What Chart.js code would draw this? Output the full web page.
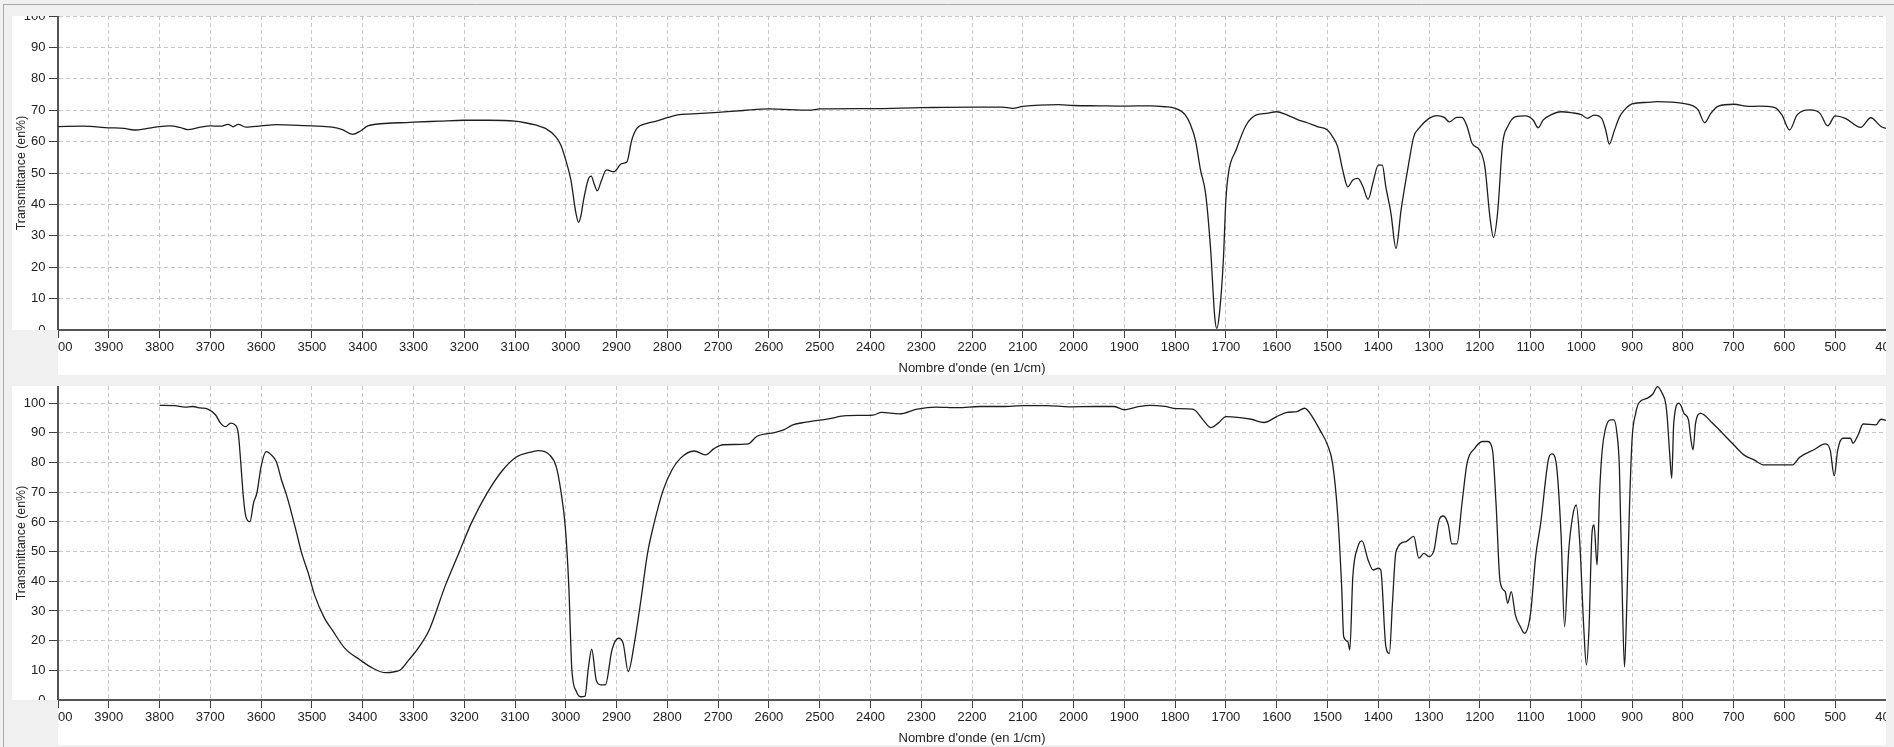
<!DOCTYPE html>
<html><head><meta charset="utf-8">
<script src="https://cdn.jsdelivr.net/npm/chart.js@4.4.1/dist/chart.umd.min.js"></script>
<style>
html,body{margin:0;padding:0;background:#f0f0f0;overflow:hidden}
#wrap{position:relative;width:1894px;height:747px}
canvas{position:absolute;left:0}
#c1{top:0}
#c2{top:376px}
</style></head><body>
<div id="wrap"><canvas id="c1" width="1894" height="376"></canvas><canvas id="c2" width="1894" height="371"></canvas></div>
<script>
// ---------- data ----------
const topWavenumbers = [4000,3950,3900,3870,3850,3820,3800,3780,3760,3745,3720,3700,3680,3665,3655,3645,3630,3600,3570,3550,3500,3460,3440,3420,3405,3390,3370,3330,3300,3250,3200,3150,3100,3080,3060,3040,3020,3010,3000,2990,2980,2975,2970,2965,2955,2950,2944,2938,2930,2920,2905,2890,2880,2870,2860,2840,2820,2800,2780,2750,2700,2650,2600,2520,2500,2400,2300,2200,2140,2120,2100,2030,2000,1950,1900,1850,1820,1800,1780,1770,1760,1750,1740,1730,1722,1718,1712,1705,1700,1695,1680,1660,1640,1620,1600,1580,1560,1540,1520,1500,1490,1480,1470,1460,1450,1440,1430,1420,1410,1400,1392,1385,1375,1365,1355,1340,1330,1320,1300,1285,1270,1260,1245,1235,1225,1215,1200,1190,1180,1173,1165,1155,1145,1130,1110,1095,1085,1075,1060,1040,1020,1000,988,975,960,952,945,935,925,915,900,870,850,800,780,770,757,745,730,700,670,650,620,605,590,575,550,530,515,500,480,450,430,410,400];
const topTransmittance = [64.8,64.9,64.4,64.2,63.7,64.3,64.8,65.0,64.5,63.8,64.6,65.0,64.9,65.5,64.7,65.5,64.6,65.0,65.4,65.3,65.0,64.6,63.8,62.3,63.3,65.0,65.6,66.0,66.2,66.5,66.8,66.8,66.5,66.0,65.3,64.2,61.6,59.0,54.1,47.8,37.2,34.3,36.5,41.4,48.3,49.0,46.5,44.3,47.5,51.0,50.4,53.0,53.4,60.5,64.2,65.8,66.6,67.6,68.5,68.8,69.3,69.9,70.4,70.0,70.4,70.5,70.8,71.0,71.0,70.6,71.2,71.8,71.5,71.4,71.3,71.4,71.1,70.6,68.5,65.5,60.5,51.0,43.5,25.5,4.2,0.5,6.4,22.3,41.4,49.9,57.3,65.3,68.5,69.0,69.5,68.5,67.1,66.0,64.8,63.7,61.6,58.4,51.0,45.6,47.8,48.3,45.6,41.6,47.2,52.5,52.5,45.6,37.2,26.0,38.2,53.0,61.6,64.2,67.4,68.3,67.7,66.3,67.7,67.7,64.8,59.4,57.3,52.0,36.0,29.5,37.2,59.4,64.8,67.9,68.2,66.9,64.4,66.9,68.5,69.5,69.2,68.6,67.4,68.4,67.4,63.7,59.2,63.5,67.8,70.1,72.0,72.5,72.7,72.2,71.4,70.1,66.0,69.0,71.3,71.9,71.2,71.3,70.9,68.5,63.7,68.5,70.1,69.0,65.0,68.2,67.4,64.5,67.6,64.8,64.2];

const bottomWavenumbers = [3800,3770,3750,3735,3720,3705,3690,3680,3670,3660,3652,3645,3640,3635,3630,3622,3615,3608,3600,3590,3580,3570,3560,3550,3540,3530,3520,3507,3495,3475,3460,3435,3405,3380,3355,3335,3326,3309,3291,3269,3238,3212,3186,3155,3124,3098,3072,3054,3032,3019,3010,3001,2994,2988,2979,2971,2962,2956,2949,2940,2931,2922,2909,2896,2887,2877,2865,2852,2839,2826,2808,2791,2774,2747,2725,2708,2690,2641,2624,2589,2571,2553,2527,2483,2448,2395,2378,2343,2308,2272,2228,2185,2141,2097,2053,2009,1956,1920,1900,1870,1850,1820,1800,1765,1745,1730,1715,1700,1650,1625,1600,1580,1560,1545,1530,1515,1500,1490,1480,1472,1468,1460,1456,1450,1440,1432,1420,1410,1400,1395,1385,1378,1372,1365,1345,1330,1320,1310,1300,1290,1280,1272,1262,1255,1245,1235,1225,1210,1195,1185,1175,1168,1160,1150,1145,1138,1130,1120,1112,1100,1090,1080,1065,1058,1050,1040,1033,1025,1017,1010,1003,995,990,985,979,975,969,964,959,953,943,936,930,925,920,915,910,905,900,893,887,870,859,850,841,834,831,826,822,818,808,803,798,789,785,780,775,765,742,722,700,680,660,640,600,585,570,540,520,510,502,495,485,470,465,455,445,420,410,400];
const bottomTransmittance = [99.3,99.2,98.7,98.9,98.4,98.0,96.1,93.3,92.1,93.3,92.8,89.9,79.8,68.5,61.8,60.1,66.3,70.0,78.7,83.7,82.6,80.3,74.2,69.1,62.9,56.2,49.4,42.7,35.5,27.5,23.6,17.4,13.5,10.7,9.2,9.6,10.1,13.5,17.4,23.6,38.2,48.9,59.6,69.7,77.5,81.8,83.4,84.0,82.6,78.7,70.8,58.4,38.2,10.1,2.8,1.1,1.3,10.1,17.1,6.7,5.1,5.1,16.9,20.8,19.1,9.6,19.1,33.7,49.4,59.6,70.8,77.5,81.5,83.9,82.6,84.7,86.0,86.3,88.8,90.1,91.0,92.7,93.6,94.7,95.8,96.0,96.9,96.4,98.0,98.7,98.5,98.9,98.9,99.2,99.2,98.8,98.9,98.9,97.8,98.9,99.3,98.9,98.2,98.0,94.4,91.8,93.3,95.5,94.6,93.5,95.5,96.9,97.2,98.3,95.5,91.0,86.0,79.8,62.9,38.2,21.3,19.7,16.9,41.6,51.7,53.6,47.2,43.8,44.4,43.8,18.0,15.7,32.6,50.0,53.4,55.1,47.8,49.4,48.3,50.6,60.7,62.0,59.0,52.6,52.6,66.3,79.8,84.8,87.1,87.1,84.3,66.3,39.9,36.5,32.6,36.5,28.7,24.7,22.5,29.2,48.3,59.6,80.9,82.9,80.3,56.0,24.7,50.0,62.0,65.7,52.8,23.6,11.8,23.6,56.2,59.0,45.5,70.0,84.0,91.0,94.4,94.4,90.0,78.0,40.0,11.2,35.0,66.0,88.0,96.6,100.0,101.7,103.1,105.6,103.4,100.0,95.5,83.0,74.7,93.3,100.0,98.9,96.6,94.4,88.8,84.3,93.3,96.6,93.3,89.9,86.0,82.6,80.9,79.2,79.2,79.2,81.8,84.5,86.3,84.3,75.5,84.3,88.2,88.2,86.5,89.3,93.0,92.7,94.6,94.2];

const xMin = 400, xMax = 4000, xTickStep = 100;
const yTickStep = 10;
const topYMax = 100, bottomYMax = 105.8;
const xTitle = "Nombre d'onde (en 1/cm)";
const yTitle = "Transmittance (en%)";

// ---------- drawing ----------
const W = 1894;
const FONT = "'Liberation Sans', Arial, sans-serif";
const GRAY = '#f0f0f0';

const framePlugin = {
  id: 'frame',
  beforeDraw(chart, args, o) {
    const ctx = chart.ctx, H = chart.height, a = chart.chartArea;
    ctx.save();
    ctx.fillStyle = GRAY; ctx.fillRect(0, 0, W, H);
    ctx.fillStyle = '#ffffff';
    ctx.fillRect(12, a.top, a.right - 12, a.bottom - a.top);
    ctx.fillRect(a.left, a.bottom, a.right - a.left, o.axisBottom - a.bottom);
    ctx.restore();
  },
  afterDraw(chart, args, o) {
    const ctx = chart.ctx, H = chart.height, a = chart.chartArea;
    ctx.save();
    ctx.fillStyle = GRAY;
    ctx.fillRect(0, 0, W, a.top);
    ctx.fillRect(0, 0, 12, H);
    ctx.fillRect(a.right, 0, W - a.right, H);
    ctx.fillRect(0, a.bottom, a.left, H - a.bottom);
    ctx.fillRect(0, o.axisBottom, W, H - o.axisBottom);
    ctx.strokeStyle = '#a8a8a8'; ctx.lineWidth = 1;
    ctx.beginPath();
    ctx.moveTo(3.5, o.frameTop); ctx.lineTo(3.5, H);
    if (o.frameTop > 0) { ctx.moveTo(3, o.frameTop + 0.5); ctx.lineTo(W, o.frameTop + 0.5); }
    ctx.stroke();
    ctx.restore();
  }
};

function makeChart(id, xs, ys, yMax, g) {
  const pts = xs.map((x, i) => ({x: x, y: ys[i]}));
  return new Chart(document.getElementById(id), {
    type: 'line',
    data: { datasets: [{ data: pts, borderColor: '#1e1e1e', borderWidth: 1.3, pointRadius: 0,
      cubicInterpolationMode: 'monotone', fill: false }] },
    plugins: [framePlugin],
    options: {
      responsive: false, animation: false, events: [], devicePixelRatio: 1,
      layout: { padding: { left: 10, right: 8, top: g.plotTop, bottom: 0 } },
      plugins: { legend: { display: false }, tooltip: { enabled: false },
        frame: { axisBottom: g.axisBottom, frameTop: g.frameTop } },
      scales: {
        x: {
          type: 'linear', reverse: true, min: xMin, max: xMax,
          grid: { color: '#c6c6c6', lineWidth: 1, tickColor: '#404040', tickLength: 8, tickWidth: 1 },
          border: { display: true, color: '#555555', width: 2, dash: [4, 3] },
          ticks: { stepSize: xTickStep, autoSkip: false, maxRotation: 0, minRotation: 0, padding: 2,
            color: '#222222', font: { family: FONT, size: 13 }, callback: v => String(v) },
          title: { display: true, text: xTitle, color: '#222222', font: { family: FONT, size: 13 },
            padding: { top: 0, bottom: g.titlePad } },
          afterFit(s) { s.height = g.canvasH - g.plotBottom; s.paddingLeft = 0; s.paddingRight = 0; s.paddingTop = 0; s.paddingBottom = 0; }
        },
        y: {
          type: 'linear', min: 0, max: yMax,
          grid: { color: '#c6c6c6', lineWidth: 1, tickColor: '#404040', tickLength: 9, tickWidth: 1 },
          border: { display: true, color: '#555555', width: 2, dash: [4, 3] },
          ticks: { stepSize: yTickStep, padding: 3.5, color: '#222222', font: { family: FONT, size: 13 },
            callback: v => String(v) },
          afterBuildTicks(s) { s.ticks = s.ticks.filter(t => Math.abs(t.value / yTickStep - Math.round(t.value / yTickStep)) < 1e-6); },
          title: { display: true, text: yTitle, color: '#222222', font: { family: FONT, size: 12.4 },
            padding: { top: 4.5, bottom: 0 } },
          afterFit(s) { s.width = 48; s.paddingLeft = 0; s.paddingRight = 0; s.paddingTop = 0; s.paddingBottom = 0; }
        }
      }
    }
  });
}

makeChart('c1', topWavenumbers, topTransmittance, topYMax,
  { plotTop: 16, plotBottom: 330, canvasH: 376, axisBottom: 375, frameTop: 4, titlePad: 0 });
makeChart('c2', bottomWavenumbers, bottomTransmittance, bottomYMax,
  { plotTop: 10, plotBottom: 324, canvasH: 371, axisBottom: 369, frameTop: 0, titlePad: 1 });
</script>
</body></html>
